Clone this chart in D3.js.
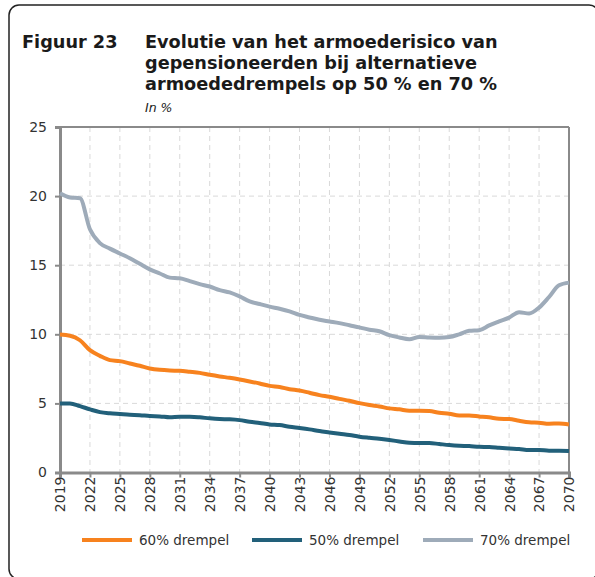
<!DOCTYPE html>
<html>
<head>
<meta charset="utf-8">
<script src="https://cdn.jsdelivr.net/npm/d3@7"></script>
<style>
  body { margin: 0; background: #fff; }
  svg text { font-family: "DejaVu Sans", sans-serif; }
</style>
</head>
<body>
<div id="chart"></div>
<script>
// years 2019..2070
const years = d3.range(2019, 2071);

// 60% drempel
const p60 = [9.98, 9.9, 9.57, 8.85, 8.44, 8.13, 8.06, 7.89, 7.72, 7.53,
  7.43, 7.38, 7.36, 7.29, 7.21, 7.07, 6.95, 6.85, 6.73, 6.59,
  6.44, 6.27, 6.18, 6.03, 5.93, 5.77, 5.6, 5.48, 5.33, 5.19,
  5.02, 4.88, 4.78, 4.64, 4.57, 4.47, 4.47, 4.45, 4.32, 4.25,
  4.13, 4.13, 4.06, 3.99, 3.89, 3.87, 3.74, 3.63, 3.6, 3.53,
  3.55, 3.48];

// 50% drempel
const p50 = [5.0, 5.0, 4.8, 4.57, 4.37, 4.28, 4.23, 4.18, 4.15, 4.08,
  4.06, 3.99, 4.03, 4.03, 3.99, 3.92, 3.87, 3.85, 3.79, 3.67,
  3.58, 3.48, 3.43, 3.31, 3.22, 3.12, 3.0, 2.9, 2.8, 2.71,
  2.59, 2.51, 2.44, 2.35, 2.25, 2.15, 2.13, 2.13, 2.06, 1.99,
  1.94, 1.91, 1.86, 1.84, 1.79, 1.74, 1.7, 1.63, 1.63, 1.58,
  1.58, 1.55];

// 70% drempel
const p70 = [20.2, 19.9, 19.85, 17.6, 16.6, 16.2, 15.85, 15.5, 15.1, 14.7,
  14.4, 14.1, 14.05, 13.85, 13.63, 13.46, 13.2, 13.03, 12.74, 12.38,
  12.19, 12.0, 11.85, 11.66, 11.4, 11.22, 11.05, 10.93, 10.81, 10.65,
  10.5, 10.33, 10.22, 9.94, 9.77, 9.65, 9.81, 9.77, 9.75, 9.8,
  10.0, 10.25, 10.3, 10.64, 10.93, 11.21, 11.6, 11.5, 11.93, 12.7,
  13.55, 13.74];

const seriesNames = ['60% drempel', '50% drempel', '70% drempel'];
const seriesColors = ['#f7821e', '#22607a', '#9eabb9'];
const seriesValues = [p60, p50, p70];

const yTicks = [0, 5, 10, 15, 20, 25];
const xTicks = d3.range(2019, 2071, 3);

const titleNumber = 'Figuur 23';
const titleLines = ['Evolutie van het armoederisico van',
  'gepensioneerden bij alternatieve',
  'armoededrempels op 50 % en 70 %'];
const subtitle = 'In %';

const W = 595, H = 577;
const plot = {left: 60, right: 569, top: 127, bottom: 472.5};

const svg = d3.select('#chart').append('svg')
  .attr('width', W)
  .attr('height', H);

// outer frame
svg.append('rect')
  .attr('x', 9).attr('y', 5)
  .attr('width', 590).attr('height', 574)
  .attr('rx', 10)
  .attr('fill', 'none')
  .attr('stroke', '#222')
  .attr('stroke-width', 1.5);

// title
svg.append('text')
  .attr('x', 22).attr('y', 48)
  .attr('font-size', '17.7px').attr('font-weight', 'bold')
  .attr('fill', '#1a1a1a')
  .text(titleNumber);
svg.append('g').selectAll('text')
  .data(titleLines)
  .join('text')
  .attr('x', 145)
  .attr('y', (d, i) => 48 + i * 21)
  .attr('font-size', '17.7px').attr('font-weight', 'bold')
  .attr('fill', '#1a1a1a')
  .text(d => d);
svg.append('text')
  .attr('x', 145).attr('y', 112)
  .attr('font-size', '12.5px').attr('font-style', 'italic')
  .attr('fill', '#1a1a1a')
  .text(subtitle);

// scales
const x = d3.scaleLinear().domain([2019, 2070]).range([plot.left, plot.right]);
const y = d3.scaleLinear().domain([0, 25]).range([plot.bottom, plot.top]);

// grid
const grid = svg.append('g');
grid.selectAll('.vgrid')
  .data(xTicks.filter(d => d > 2019 && d < 2070))
  .join('line')
  .attr('x1', d => x(d)).attr('x2', d => x(d))
  .attr('y1', plot.top).attr('y2', plot.bottom)
  .attr('stroke', '#d9d9d9').attr('stroke-dasharray', '5,4');
grid.selectAll('.hgrid')
  .data(yTicks.filter(d => d > 0 && d < 25))
  .join('line')
  .attr('x1', plot.left).attr('x2', plot.right)
  .attr('y1', d => y(d)).attr('y2', d => y(d))
  .attr('stroke', '#d9d9d9').attr('stroke-dasharray', '5,4');

// top and right border
svg.append('line')
  .attr('x1', plot.left).attr('x2', plot.right)
  .attr('y1', plot.top).attr('y2', plot.top)
  .attr('stroke', '#8a8a8a').attr('stroke-width', 2);
svg.append('line')
  .attr('x1', plot.right).attr('x2', plot.right)
  .attr('y1', plot.top).attr('y2', plot.bottom)
  .attr('stroke', '#8a8a8a').attr('stroke-width', 2);

// axes
const yAxis = d3.axisLeft(y).tickValues(yTicks).tickSize(5).tickPadding(8);
const yAxisG = svg.append('g')
  .attr('transform', `translate(${plot.left},0)`)
  .call(yAxis);
yAxisG.selectAll('.domain').attr('stroke', '#8a8a8a').attr('stroke-width', 3);
yAxisG.selectAll('.tick line').attr('stroke', '#8a8a8a').attr('stroke-width', 2);
yAxisG.selectAll('.tick text')
  .attr('font-family', '"DejaVu Sans", sans-serif')
  .attr('font-size', '14px').attr('fill', '#333');

const xAxis = d3.axisBottom(x).tickValues(xTicks).tickSize(5).tickFormat(d3.format('d'));
const xAxisG = svg.append('g')
  .attr('transform', `translate(0,${plot.bottom})`)
  .call(xAxis);
xAxisG.selectAll('.domain').attr('stroke', '#8a8a8a').attr('stroke-width', 3);
xAxisG.selectAll('.tick line').attr('stroke', '#8a8a8a').attr('stroke-width', 2);
xAxisG.selectAll('.tick text')
  .attr('font-family', '"DejaVu Sans", sans-serif')
  .attr('font-size', '14px').attr('fill', '#333')
  .attr('transform', 'rotate(-90)')
  .attr('text-anchor', 'end')
  .attr('dy', '0.35em')
  .attr('x', -4)
  .attr('y', 0);

// lines
const line = d3.line()
  .x((d, i) => x(years[i]))
  .y(d => y(d))
  .curve(d3.curveMonotoneX);

// draw gray first so orange/teal are on top like the original
[2, 0, 1].forEach(k => {
  svg.append('path')
    .datum(seriesValues[k])
    .attr('fill', 'none')
    .attr('stroke', seriesColors[k])
    .attr('stroke-width', 4)
    .attr('stroke-linejoin', 'round')
    .attr('d', line);
});

// legend
const legendX = [82, 252, 423];
const legend = svg.append('g').selectAll('g')
  .data(seriesNames)
  .join('g')
  .attr('transform', (d, i) => `translate(${legendX[i]},540)`);
legend.append('line')
  .attr('x1', 0).attr('x2', 50)
  .attr('stroke', (d, i) => seriesColors[i])
  .attr('stroke-width', 4);
legend.append('text')
  .attr('x', 57).attr('dy', '0.35em')
  .attr('font-size', '13.5px').attr('fill', '#333')
  .text(d => d);
</script>
</body>
</html>
